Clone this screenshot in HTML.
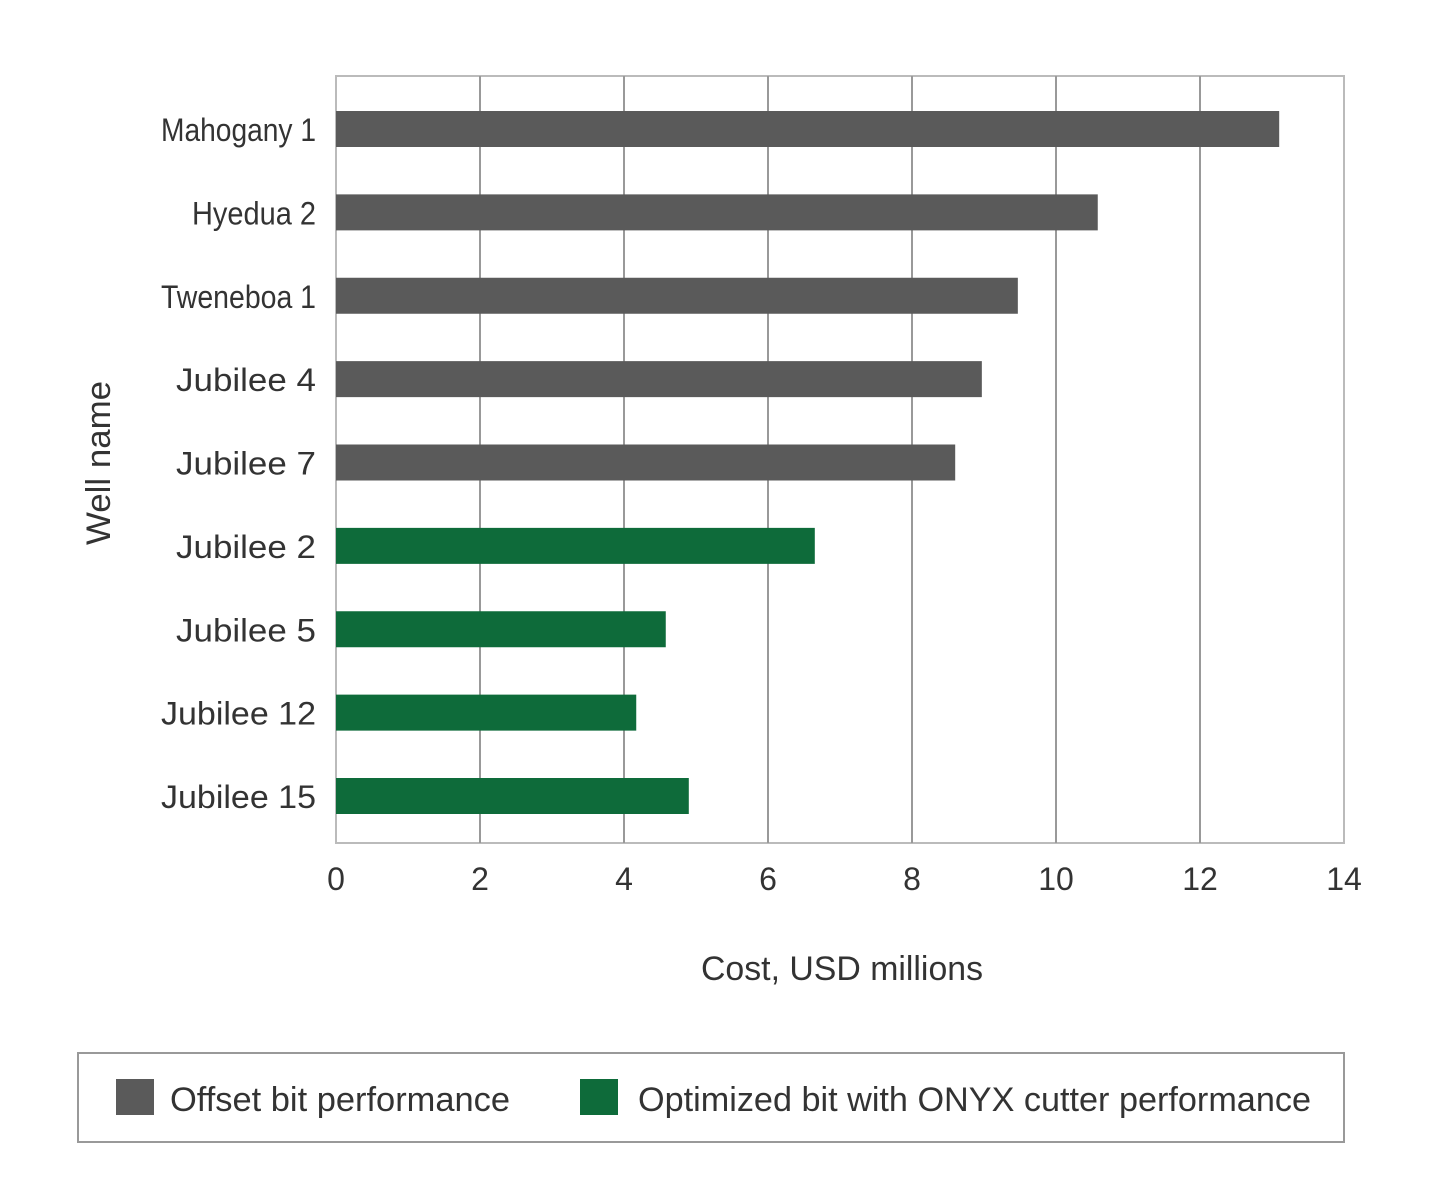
<!DOCTYPE html>
<html><head><meta charset="utf-8"><style>
html,body{margin:0;padding:0;background:#fff;}
svg{display:block;font-family:"Liberation Sans",sans-serif;}
</style></head><body>
<svg id="chart" width="1440" height="1202" viewBox="0 0 1440 1202">
<rect x="0" y="0" width="1440" height="1202" fill="#fff"/>
<g id="grid"></g>
<g id="bars"></g>
<g id="labels"></g>
<g id="ticks"></g>
<text x="842" y="980" font-size="34" fill="#333" text-anchor="middle" textLength="282" lengthAdjust="spacingAndGlyphs">Cost, USD millions</text>
<text x="0" y="0" font-size="34" fill="#333" text-anchor="middle" textLength="164" lengthAdjust="spacingAndGlyphs" transform="translate(110,463) rotate(-90)">Well name</text>
<g>
<rect x="78" y="1053" width="1266" height="89" fill="#fff" stroke="#999" stroke-width="2"/>
<g>
<rect x="116" y="1079" width="38" height="36" fill="#5a5a5a"/>
<text x="170" y="1111" font-size="34" fill="#333" textLength="340" lengthAdjust="spacingAndGlyphs">Offset bit performance</text>
</g>
<g>
<rect x="580" y="1079" width="38" height="36" fill="#0e6b3a"/>
<text x="638" y="1111" font-size="34" fill="#333" textLength="673" lengthAdjust="spacingAndGlyphs">Optimized bit with ONYX cutter performance</text>
</g>
</g>
</svg>
<script>
const categories=["Mahogany 1","Hyedua 2","Tweneboa 1","Jubilee 4","Jubilee 7","Jubilee 2","Jubilee 5","Jubilee 12","Jubilee 15"];
const values=[13.1,10.58,9.47,8.97,8.6,6.65,4.58,4.17,4.9];
const seriesType=["offset","offset","offset","offset","offset","optimized","optimized","optimized","optimized"];
const tickValues=[0,2,4,6,8,10,12,14];
const NS="http://www.w3.org/2000/svg";
const X0=336,X1=1344,Y0=76,Y1=843,XMAX=14;
const xs=v=>X0+(X1-X0)*v/XMAX;
const yc=i=>129+i*(796-129)/(categories.length-1);
const colors={offset:"#5a5a5a",optimized:"#0e6b3a"};
function mk(tag,attrs,parent){const e=document.createElementNS(NS,tag);for(const k in attrs)e.setAttribute(k,attrs[k]);parent.appendChild(e);return e;}
const grid=document.getElementById('grid'),bars=document.getElementById('bars'),labels=document.getElementById('labels'),ticks=document.getElementById('ticks');
const frame=mk('rect',{x:X0,y:Y0,width:X1-X0,height:Y1-Y0,fill:'none',stroke:'#bbb','stroke-width':2},grid);


tickValues.forEach(t=>{
  if(t>0&&t<XMAX){const l=mk('line',{x1:xs(t),x2:xs(t),y1:Y0,y2:Y1,stroke:'#999','stroke-width':2},grid);
  
  }
  const tx=mk('text',{x:xs(t),y:890,'font-size':32,fill:'#333','text-anchor':'middle'},ticks);
  tx.textContent=t;
  
  
});
categories.forEach((c,i)=>{
  const y=yc(i);
  const r=mk('rect',{x:X0,y:y-18,width:xs(values[i])-X0,height:36,fill:colors[seriesType[i]]},bars);
  
  
  const t=mk('text',{x:316,y:y+12,'font-size':32,fill:'#333','text-anchor':'end'},labels);
  t.textContent=c;
  
  
  t.setAttribute('textLength',String(Math.round(c.length*15.5)));
  t.setAttribute('lengthAdjust','spacingAndGlyphs');
});
</script>
</body></html>
